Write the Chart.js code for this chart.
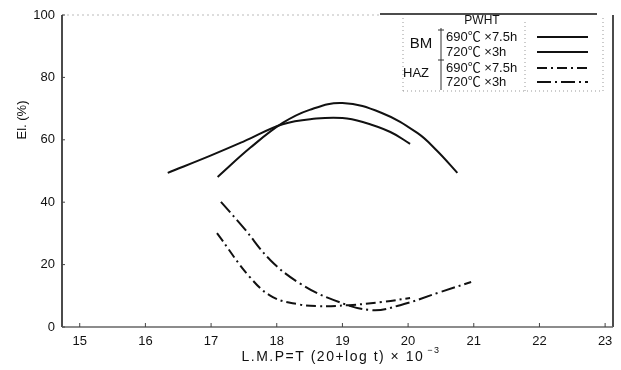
<!DOCTYPE html>
<html>
<head>
<meta charset="utf-8">
<script src="https://cdn.jsdelivr.net/npm/chart.js@4.4.0/dist/chart.umd.min.js"></script>
<style>
  html, body { margin: 0; padding: 0; background: #fff; }
</style>
</head>
<body>
<canvas id="elChart" width="621" height="370"></canvas>
<script>
// values
const xTicks = [15, 16, 17, 18, 19, 20, 21, 22, 23];
const yTicks = [0, 20, 40, 60, 80, 100];

// BM (solid)
const bm690X = [16.34, 17.0, 17.5, 18.09, 18.6, 19.0, 19.31, 19.73, 20.03];
const bm690Y = [49.4, 55.0, 59.5, 65.0, 66.8, 67.0, 65.7, 62.5, 58.7];
const bm720X = [17.1, 17.6, 18.09, 18.5, 19.0, 19.6, 20.14, 20.44, 20.75];
const bm720Y = [48.1, 57.5, 65.4, 69.6, 71.8, 68.6, 62.2, 56.5, 49.4];

// HAZ (dash-dot)
const haz690X = [17.09, 17.59, 17.94, 18.35, 18.61, 19.1, 19.6, 20.03];
const haz690Y = [30.1, 16.0, 9.6, 7.2, 6.7, 7.0, 8.0, 9.3];
const haz720X = [17.15, 17.5, 17.9, 18.35, 18.86, 19.44, 19.88, 20.49, 20.96];
const haz720Y = [40.1, 31.7, 21.5, 14.0, 8.7, 5.4, 7.0, 11.2, 14.4];

const legendRows = ['690\u2103 \u00d77.5h', '720\u2103 \u00d73h', '690\u2103 \u00d77.5h', '720\u2103 \u00d73h'];

const FONT = '"Liberation Sans", "Noto Sans CJK JP", sans-serif';
const INK = '#111';
const DASH_690 = [10, 4, 2, 4];
const DASH_720 = [14, 4, 2, 4];

function pts(xs, ys) {
    return xs.map((x, i) => ({ x: x, y: ys[i] }));
}

function curve(xs, ys, dash) {
    return {
        data: pts(xs, ys),
        borderColor: INK,
        borderWidth: 2,
        borderDash: dash,
        pointRadius: 0,
        tension: 0.4,
        fill: false
    };
}

// frame, axis titles and the PWHT legend box
const decorations = {
    id: 'decorations',
    afterDraw(chart) {
        const ctx = chart.ctx;
        const a = chart.chartArea;
        const xs = chart.scales.x;
        const ys = chart.scales.y;
        ctx.save();

        // top border: faint dotted, darker over the legend
        ctx.strokeStyle = '#bbb';
        ctx.lineWidth = 1;
        ctx.setLineDash([2, 3]);
        ctx.beginPath();
        ctx.moveTo(a.left, a.top);
        ctx.lineTo(380, a.top);
        ctx.stroke();
        ctx.setLineDash([]);
        ctx.strokeStyle = INK;
        ctx.lineWidth = 1.5;
        ctx.beginPath();
        ctx.moveTo(380, a.top - 1);
        ctx.lineTo(597, a.top - 1);
        ctx.stroke();

        // left and right borders
        ctx.beginPath();
        ctx.moveTo(a.left, a.top);
        ctx.lineTo(a.left, a.bottom);
        ctx.moveTo(a.right, a.top);
        ctx.lineTo(a.right, a.bottom);
        ctx.stroke();

        // bottom border, greyish
        ctx.strokeStyle = '#666';
        ctx.beginPath();
        ctx.moveTo(a.left, a.bottom);
        ctx.lineTo(a.right, a.bottom);
        ctx.stroke();

        // small inward ticks
        ctx.strokeStyle = '#444';
        ctx.lineWidth = 1;
        xTicks.forEach(v => {
            const px = xs.getPixelForValue(v);
            ctx.beginPath();
            ctx.moveTo(px, a.bottom);
            ctx.lineTo(px, a.bottom - 4);
            ctx.stroke();
        });
        yTicks.forEach(v => {
            const py = ys.getPixelForValue(v);
            ctx.beginPath();
            ctx.moveTo(a.left, py);
            ctx.lineTo(a.left + 3, py);
            ctx.stroke();
        });

        // axis titles
        ctx.fillStyle = INK;
        ctx.textBaseline = 'middle';
        ctx.letterSpacing = '1.5px';
        ctx.font = '14px ' + FONT;
        const main = 'L.M.P=T (20+log t) \u00d7 10';
        const sup = '\u22123';
        const wMain = ctx.measureText(main).width;
        ctx.font = '9px ' + FONT;
        const wSup = ctx.measureText(sup).width;
        const tx = 341 - (wMain + wSup + 3) / 2;
        ctx.font = '14px ' + FONT;
        ctx.textAlign = 'left';
        ctx.fillText(main, tx, 357);
        ctx.font = '9px ' + FONT;
        ctx.fillText(sup, tx + wMain + 3, 351);
        ctx.letterSpacing = '0px';

        ctx.save();
        ctx.translate(22, 120);
        ctx.rotate(-Math.PI / 2);
        ctx.textAlign = 'center';
        ctx.font = '13px ' + FONT;
        ctx.fillText('El. (%)', 0, 0);
        ctx.restore();

        // legend box
        ctx.strokeStyle = '#999';
        ctx.lineWidth = 1;
        ctx.setLineDash([1, 3]);
        ctx.beginPath();
        ctx.moveTo(403, 18); ctx.lineTo(403, 91);
        ctx.moveTo(525, 22); ctx.lineTo(525, 91);
        ctx.moveTo(603, 18); ctx.lineTo(603, 91);
        ctx.moveTo(403, 91); ctx.lineTo(603, 91);
        ctx.stroke();
        ctx.setLineDash([]);

        // brace between group labels and conditions
        ctx.strokeStyle = '#333';
        ctx.beginPath();
        ctx.moveTo(441, 28); ctx.lineTo(441, 90);
        ctx.moveTo(438, 30); ctx.lineTo(444, 30);
        ctx.moveTo(438, 60); ctx.lineTo(444, 60);
        ctx.stroke();

        ctx.fillStyle = INK;
        ctx.textAlign = 'center';
        ctx.font = '12px ' + FONT;
        ctx.fillText('PWHT', 482, 21);
        ctx.font = '15px ' + FONT;
        ctx.fillText('BM', 421, 44);
        ctx.font = '13px ' + FONT;
        ctx.fillText('HAZ', 416, 73);

        const rowY = [37, 52, 68, 82];
        const dashes = [[], [], DASH_690, DASH_720];
        ctx.textAlign = 'left';
        ctx.font = '13px ' + FONT;
        legendRows.forEach((t, i) => {
            ctx.fillText(t, 446, rowY[i], i % 2 ? 66 : 77);
            ctx.strokeStyle = INK;
            ctx.lineWidth = 2;
            ctx.setLineDash(dashes[i]);
            ctx.beginPath();
            ctx.moveTo(537, rowY[i]);
            ctx.lineTo(588, rowY[i]);
            ctx.stroke();
        });
        ctx.setLineDash([]);
        ctx.restore();
    }
};

new Chart(document.getElementById('elChart'), {
    type: 'line',
    data: {
        datasets: [
            curve(bm690X, bm690Y, []),
            curve(bm720X, bm720Y, []),
            curve(haz690X, haz690Y, DASH_690),
            curve(haz720X, haz720Y, DASH_720)
        ]
    },
    options: {
        responsive: false,
        animation: false,
        devicePixelRatio: 1,
        layout: { padding: { top: 15, right: 8, left: 0, bottom: 0 } },
        plugins: {
            legend: { display: false },
            tooltip: { enabled: false }
        },
        scales: {
            x: {
                type: 'linear',
                min: 14.73,
                max: 23.12,
                afterBuildTicks: s => { s.ticks = xTicks.map(v => ({ value: v })); },
                afterFit: s => { s.height = 43; },
                grid: { display: false, drawTicks: false },
                border: { display: false },
                ticks: { color: INK, padding: 7, font: { family: FONT, size: 13 } }
            },
            y: {
                min: 0,
                max: 100,
                afterBuildTicks: s => { s.ticks = yTicks.map(v => ({ value: v })); },
                afterFit: s => { s.width = 62; },
                grid: { display: false, drawTicks: false },
                border: { display: false },
                ticks: { color: INK, padding: 7, font: { family: FONT, size: 13 } }
            }
        }
    },
    plugins: [decorations]
});
</script>
</body>
</html>
